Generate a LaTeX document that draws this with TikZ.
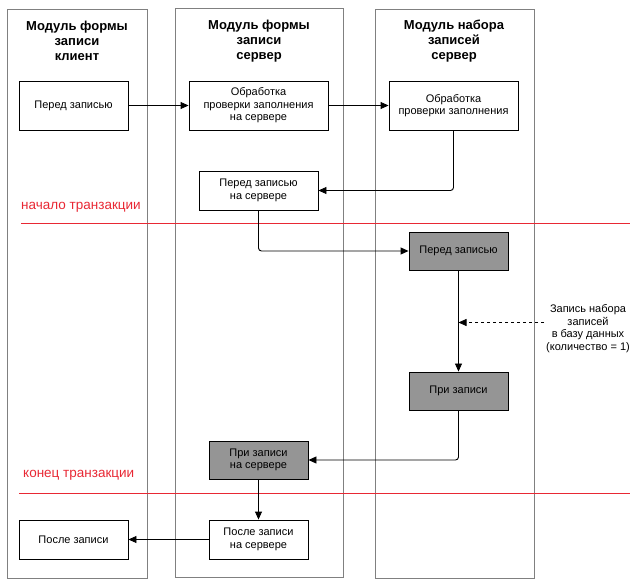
\documentclass[tikz,border=0pt]{standalone}
\usepackage{fontspec}
\setmainfont{Liberation Sans}
\usetikzlibrary{arrows.meta}
\definecolor{lanegray}{RGB}{128,128,128}
\definecolor{boxgray}{RGB}{149,149,149}
\definecolor{txred}{RGB}{232,40,52}

\begin{document}
\begin{tikzpicture}[x=1pt, y=-1pt, >={Triangle[length=8pt,width=7pt]},
    lane/.style={draw=lanegray, line width=0.9pt},
    box/.style={rectangle, draw, line width=0.9pt, fill=white, inner sep=0pt, align=center, font=\fontsize{11}{12.5}\selectfont},
    darkbox/.style={box, fill=boxgray},
    head/.style={align=center, font=\bfseries\fontsize{13}{15}\selectfont},
    txline/.style={draw=txred, line width=1.2pt},
    txlabel/.style={anchor=west, inner sep=0pt, text=txred, font=\fontsize{13.5}{15}\selectfont}]
    \useasboundingbox (0,0) rectangle (643,585);

    % swimlanes
    \draw[lane] (7,9) rectangle (147,578);
    \draw[lane] (175,8) rectangle (343,577);
    \draw[lane] (375,9) rectangle (534,578);
    \node (hclient) [head] at (77,41) {Модуль формы\\записи\\клиент};
    \node (hserver) [head] at (259,41) {Модуль формы\\записи\\сервер};
    \node (hset) [head] at (454,41) {Модуль набора\\записей\\сервер};

    % transaction bounds
    \draw[txline] (21,223.5) -- (630,223.5);
    \draw[txline] (19,493.5) -- (630,493.5);
    \node (tbegin) [txlabel] at (21,207) {начало транзакции};
    \node (tend) [txlabel] at (23,475) {конец транзакции};

    \node (before) [box, minimum width=109pt, minimum height=49pt] at (73.5,105.5) {Перед записью};
    \node (checksrv) [box, minimum width=139pt, minimum height=49pt] at (258.5,105.5) {Обработка\\проверки заполнения\\на сервере};
    \node (checkset) [box, minimum width=129pt, minimum height=49pt] at (453.5,105.5) {Обработка\\проверки заполнения};
    \node (beforesrv) [box, minimum width=119pt, minimum height=39pt] at (258.5,190.5) {Перед записью\\на сервере};
    \node (beforeset) [darkbox, minimum width=99pt, minimum height=38pt] at (458.5,251) {Перед записью};
    \node (onset) [darkbox, minimum width=99pt, minimum height=38pt] at (458.5,391) {При записи};
    \node (onsrv) [darkbox, minimum width=99pt, minimum height=38pt] at (258.5,460) {При записи\\на сервере};
    \node (aftersrv) [box, minimum width=99pt, minimum height=39pt] at (258.5,539.5) {После записи\\на сервере};
    \node (after) [box, minimum width=109pt, minimum height=39pt] at (73.5,539.5) {После записи};
    \node (dbwrite) [align=center, inner sep=2pt, font=\fontsize{11}{12.5}\selectfont] at (588,328.5) {Запись набора\\записей\\в базу данных\\(количество = 1)};

    \draw[->, line width=0.9pt] (before) -- (checksrv);
    \draw[->, line width=0.9pt] (checksrv) -- (checkset);
    \draw[->, line width=0.9pt, rounded corners=3pt] (checkset.south) |- (beforesrv.east);
    \draw[->, line width=0.9pt, rounded corners=3pt] (beforesrv.south) |- (beforeset.west);
    \draw[->, line width=0.9pt] (beforeset) -- (onset);
    \draw[->, line width=0.9pt, rounded corners=3pt] (onset.south) |- (onsrv.east);
    \draw[->, line width=0.9pt] (onsrv) -- (aftersrv);
    \draw[->, line width=0.9pt] (aftersrv) -- (after);
    \draw[->, dashed, line width=0.8pt] ([yshift=6pt]dbwrite.west) -- ([yshift=6pt]dbwrite.west -| beforeset.south);
\end{tikzpicture}
\end{document}
